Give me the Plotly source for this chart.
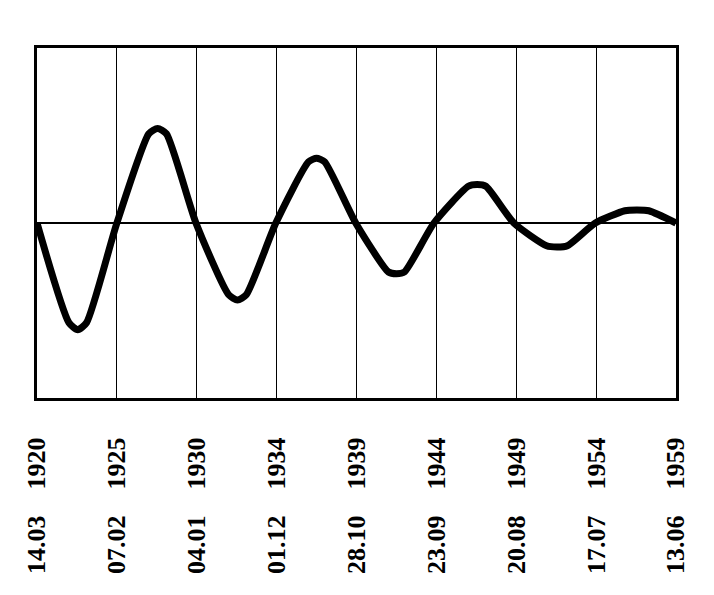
import plotly.graph_objects as go

# tick positions (interval index) and labels: day.month and year
tick_pos = [0, 1, 2, 3, 4, 5, 6, 7, 8]
tick_dates = ["14.03", "07.02", "04.01", "01.12", "28.10", "23.09", "20.08", "17.07", "13.06"]
tick_years = ["1920", "1925", "1930", "1934", "1939", "1944", "1949", "1954", "1959"]

# curve: position (in tick intervals) and value (relative amplitude)
curve_x = [0.0, 0.40, 0.51, 0.62, 1.0, 1.40, 1.51, 1.62, 1.99,
           2.40, 2.51, 2.62, 2.99, 3.40, 3.50, 3.60, 3.99,
           4.40, 4.50, 4.60, 4.97, 5.40, 5.51, 5.62, 5.97,
           6.38, 6.51, 6.64, 6.99, 7.36, 7.51, 7.66, 8.0]
curve_y = [0.0, -0.57, -0.61, -0.57, 0.0, 0.51, 0.54, 0.51, 0.0,
           -0.41, -0.44, -0.41, 0.0, 0.35, 0.37, 0.35, 0.0,
           -0.28, -0.29, -0.28, 0.0, 0.21, 0.22, 0.21, 0.0,
           -0.13, -0.137, -0.13, 0.0, 0.07, 0.074, 0.07, 0.0]

SP = "\u00a0" * 4
tick_text = [d + SP + y for d, y in zip(tick_dates, tick_years)]

fig = go.Figure()
fig.add_trace(go.Scatter(
    x=curve_x, y=curve_y, mode="lines",
    line=dict(color="black", width=7, shape="spline", smoothing=0.6),
    hoverinfo="skip", showlegend=False,
))

fig.update_layout(
    width=714, height=595,
    margin=dict(l=29, r=46, t=40, b=205),
    paper_bgcolor="white", plot_bgcolor="white",
    font=dict(family="Liberation Serif", color="black"),
    showlegend=False,
)
fig.update_xaxes(
    range=[0, 8], tickvals=tick_pos, ticktext=tick_text,
    tickangle=-90, tickfont=dict(family="Liberation Serif", size=26, weight="bold"),
    showgrid=True, gridcolor="black", gridwidth=1,
    showline=True, linecolor="black", linewidth=3, mirror=True,
    zeroline=False, ticks="", ticklabelstandoff=26, automargin=False,
)
fig.update_yaxes(
    range=[-1, 1], showticklabels=False, showgrid=False,
    zeroline=True, zerolinecolor="black", zerolinewidth=1.5,
    showline=True, linecolor="black", linewidth=3, mirror=True, ticks="",
    automargin=False,
)
fig.write_html("out.html")
